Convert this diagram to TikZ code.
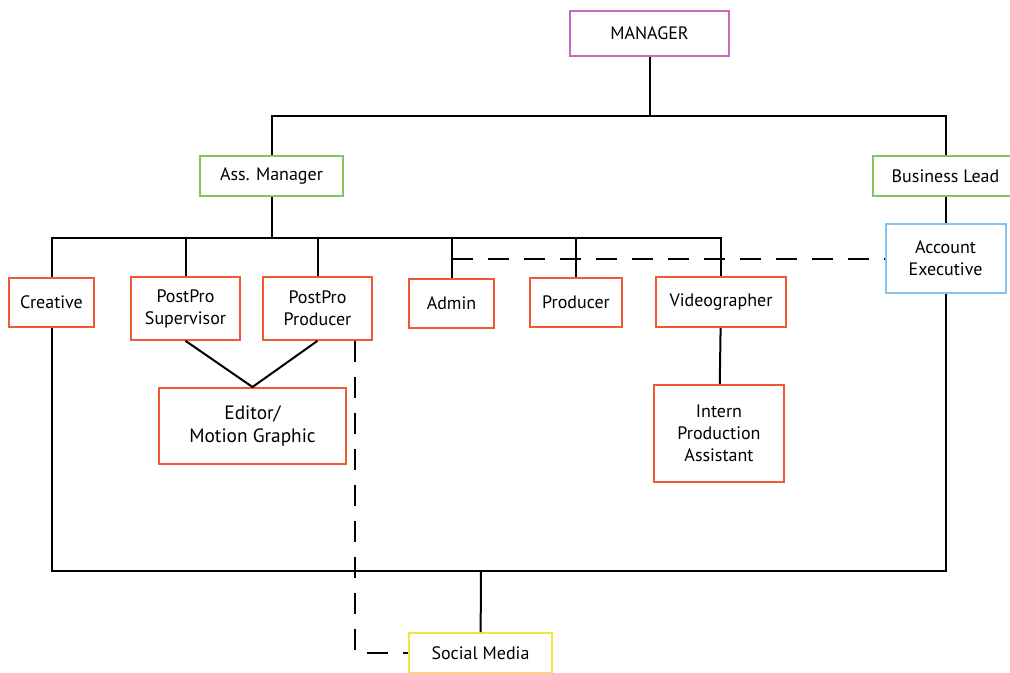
\documentclass[tikz,border=0pt]{standalone}
\usepackage{fontspec}
\setmainfont{PT Sans}
\usetikzlibrary{calc}
\definecolor{mgrpink}{RGB}{200,105,190}
\definecolor{leadgreen}{RGB}{125,200,90}
\definecolor{staffred}{RGB}{240,90,50}
\definecolor{acctblue}{RGB}{135,195,235}
\definecolor{mediayellow}{RGB}{240,230,60}
\tikzset{
  box/.style={draw, line width=1.5pt, inner sep=0pt, align=center,
    font=\fontsize{13.5}{16.5}\selectfont},
  link/.style={line width=1.5pt},
  dotlink/.style={line width=1.5pt, dash pattern=on 16pt off 11pt}
}
\begin{document}
\begin{tikzpicture}[x=0.75pt,y=-0.75pt]
  \useasboundingbox (0,0) rectangle (1010,672);
  \node[box, draw=mgrpink, minimum width=119pt, minimum height=34pt] (mgr) at (649.5,33.5) {MANAGER};
  \node[box, draw=leadgreen, minimum width=107pt, minimum height=30pt] (ass) at (271.5,176) {Ass. Manager};
  \node[box, draw=leadgreen, minimum width=109pt, minimum height=30pt] (biz) at (945.5,176) {Business Lead};
  \node[box, draw=acctblue, minimum width=90pt, minimum height=52pt] (acct) at (945.5,258.5) {Account\\Executive};
  \node[box, draw=staffred, minimum width=64pt, minimum height=37pt] (creative) at (51.5,302.5) {Creative};
  \node[box, draw=staffred, minimum width=82pt, minimum height=47pt] (sup) at (185.5,308.5) {PostPro\\Supervisor};
  \node[box, draw=staffred, minimum width=82pt, minimum height=47pt] (prod) at (317.5,308.5) {PostPro\\Producer};
  \node[box, draw=staffred, minimum width=64pt, minimum height=37pt] (admin) at (451.5,303.5) {Admin};
  \node[box, draw=staffred, minimum width=69pt, minimum height=37pt] (producer) at (576,302.5) {Producer};
  \node[box, draw=staffred, minimum width=97.5pt, minimum height=37.5pt] (video) at (721,302) {Videographer};
  \node[box, draw=staffred, minimum width=97.5pt, minimum height=73pt] (intern) at (719,433.5) {Intern\\Production\\Assistant};
  \node[box, draw=staffred, minimum width=140pt, minimum height=57pt,
    font=\fontsize{14.5}{17.5}\selectfont] (editor) at (252.5,426) {Editor/\\Motion Graphic};
  \node[box, draw=mediayellow, minimum width=107pt, minimum height=30pt] (social) at (480.5,653) {Social Media};
  \coordinate (top) at (649.5,116);
  \coordinate (mid) at (271.5,238);
  \coordinate (low) at (481,571);
  \draw[link] (mgr) -- (top);
  \draw[link] (ass.north) |- (top) -| (biz.north);
  \draw[link] (biz) -- (acct);
  \draw[link] (ass) -- (mid);
  \draw[link] (creative.north) |- (mid) -| (video.north);
  \draw[link] (sup.north) -- (sup.north |- mid);
  \draw[link] (prod.north) -- (prod.north |- mid);
  \draw[link] (admin.north) -- (admin.north |- mid);
  \draw[link] (producer.north) -- (producer.north |- mid);
  \draw[link] (sup.south) -- (editor.north) -- (prod.south);
  \draw[link] (video) -- (intern);
  \draw[link] (creative.south) |- (low) -| (acct.south);
  \draw[link] (low) -- (social);
  \draw[dotlink] (admin.north |- acct.west) -- (acct.west);
  \draw[dotlink] ([xshift=-13.5pt]prod.south east) |- (social.west);
\end{tikzpicture}
\end{document}
